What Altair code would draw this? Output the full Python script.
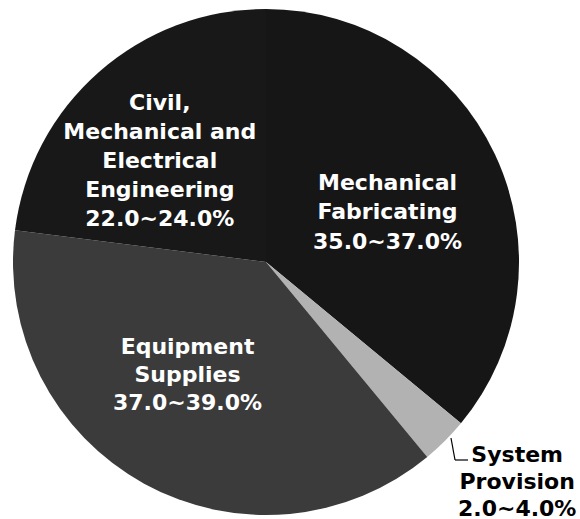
import altair as alt
import pandas as pd

categories = ["Mechanical Fabricating", "System Provision", "Equipment Supplies",
              "Civil, Mechanical and Electrical Engineering"]
shares = [36.0, 3.0, 38.0, 23.0]          # mid-point of each range, %
ranges = ["35.0~37.0%", "2.0~4.0%", "37.0~39.0%", "22.0~24.0%"]
label_lines = ["Mechanical\nFabricating", "System\nProvision", "Equipment\nSupplies",
               "Civil,\nMechanical and\nElectrical\nEngineering"]
order = [0, 1, 2, 3]
colors = ["#161616", "#b2b2b2", "#3b3b3b", "#181818"]

df = pd.DataFrame({
    "cat": categories,
    "share": shares,
    "label": [l + "\n" + r for l, r in zip(label_lines, ranges)],
    "order": order,
})

CX, CY, R = 266, 262, 253

base = alt.Chart(df).encode(
    theta=alt.Theta("share:Q", stack=True),
    order=alt.Order("order:Q"),
    x=alt.value(CX),
    y=alt.value(CY),
)

pie = base.mark_arc(radius=R, stroke=None).encode(
    color=alt.Color("cat:N", scale=alt.Scale(domain=categories, range=colors), legend=None)
)

def label_layer(cat, n_lines, radius, dx, dy, color, line_height):
    return base.transform_calculate(
        t=f"datum.cat == '{cat}' ? datum.label : ''"
    ).mark_text(
        radius=radius, dx=dx, dy=dy - (n_lines - 1) / 2 * line_height,
        font="DejaVu Sans", fontWeight="bold",
        fontSize=22, color=color, lineBreak="\n", lineHeight=line_height,
        align="center", baseline="middle",
    ).encode(text="t:N")

layers = [
    pie,
    label_layer(categories[0], 3, 131, 3, 6, "white", 29.5),
    label_layer(categories[3], 5, 147, -9, 9, "white", 29),
    label_layer(categories[2], 3, 138, -12, -8, "white", 28),
    label_layer(categories[1], 3, 334, 15, -16, "black", 27),
]

leader1 = alt.Chart(df.head(1)).mark_rule(color="black", strokeWidth=1.2).encode(
    x=alt.value(451), y=alt.value(438), x2=alt.value(455), y2=alt.value(460))
leader2 = alt.Chart(df.head(1)).mark_rule(color="black", strokeWidth=1.2).encode(
    x=alt.value(455), y=alt.value(460), x2=alt.value(468), y2=alt.value(460))

chart = alt.layer(*layers, leader1, leader2).properties(
    width=580, height=519, autosize=alt.AutoSizeParams(type="none"), padding=0,
    background="white",
).configure_view(stroke=None)

chart.save("out.html", embed_options={"renderer": "svg", "actions": False})
